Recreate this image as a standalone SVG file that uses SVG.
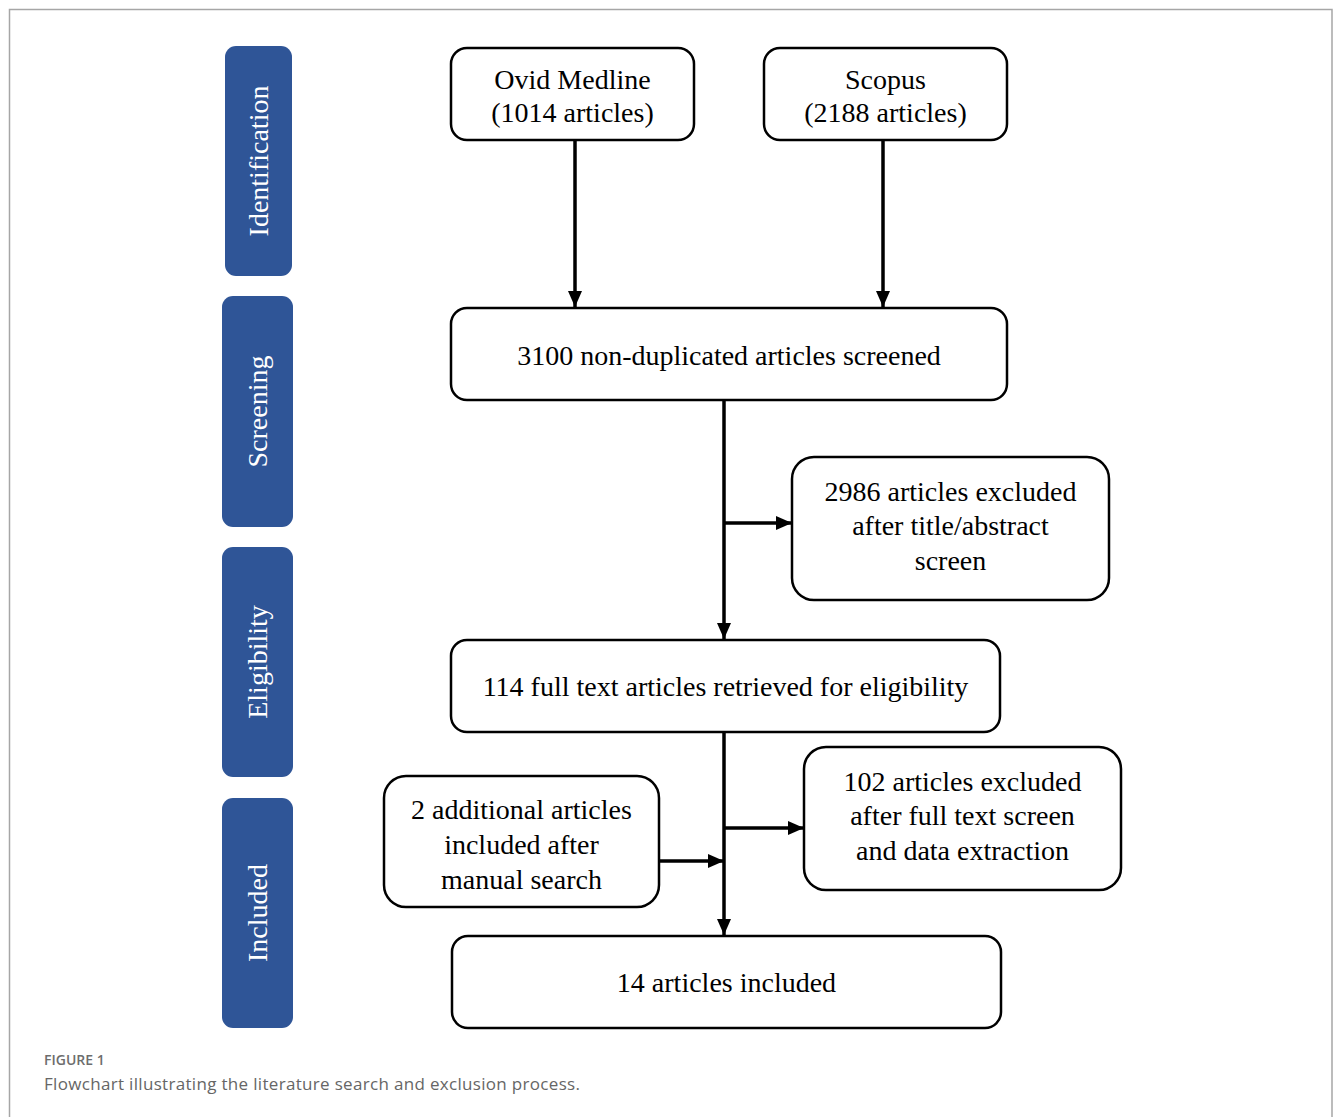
<svg xmlns="http://www.w3.org/2000/svg" width="1333" height="1117" viewBox="0 0 1333 1117">
<style>
.frame{fill:none;stroke:#a6a6a6;stroke-width:1.5}
.stage rect{fill:#2F5597}
.stage text{fill:#ffffff;font-family:"Liberation Serif","Times New Roman",serif;font-size:28px;text-anchor:middle}
.box rect{fill:#ffffff;stroke:#000000;stroke-width:2.5}
.box text{fill:#000000;font-family:"Liberation Serif","Times New Roman",serif;font-size:28px;text-anchor:middle}
.conn{fill:none;stroke:#000000;stroke-width:3.5}
.cap1{fill:#6d6d6d;font-family:"Open Sans","Liberation Sans",sans-serif;font-size:14px;font-weight:600}
.cap2{fill:#666666;font-family:"Open Sans","Liberation Sans",sans-serif;font-size:17px}
</style>
<defs>
<marker id="ah" viewBox="0 0 16 14" refX="16" refY="7" markerWidth="16" markerHeight="14" markerUnits="userSpaceOnUse" orient="auto">
<path d="M0,0 L16,7 L0,14 Z" fill="#000000"/>
</marker>
</defs>
<rect width="1333" height="1117" fill="#ffffff"/>
<path class="frame" d="M9.5,1117 V9.5 H1332 V1117"/>

<g id="stage-identification" class="stage">
<rect x="225" y="46" width="67" height="230" rx="11"/>
<text transform="translate(258.5,161) rotate(-90)" y="9.5">Identification</text>
</g>
<g id="stage-screening" class="stage">
<rect x="222" y="296" width="71" height="231" rx="11"/>
<text transform="translate(257.5,411.5) rotate(-90)" y="9.5">Screening</text>
</g>
<g id="stage-eligibility" class="stage">
<rect x="222" y="547" width="71" height="230" rx="11"/>
<text transform="translate(257.5,662) rotate(-90)" y="9.5">Eligibility</text>
</g>
<g id="stage-included" class="stage">
<rect x="222" y="798" width="71" height="230" rx="11"/>
<text transform="translate(257.5,913) rotate(-90)" y="9.5">Included</text>
</g>

<g id="connectors">
<line class="conn" x1="575" y1="140" x2="575" y2="307" marker-end="url(#ah)"/>
<line class="conn" x1="883" y1="140" x2="883" y2="307" marker-end="url(#ah)"/>
<line class="conn" x1="724" y1="400" x2="724" y2="639" marker-end="url(#ah)"/>
<line class="conn" x1="724" y1="523" x2="792" y2="523" marker-end="url(#ah)"/>
<line class="conn" x1="724" y1="732" x2="724" y2="935" marker-end="url(#ah)"/>
<line class="conn" x1="724" y1="828" x2="804" y2="828" marker-end="url(#ah)"/>
<line class="conn" x1="659" y1="861" x2="724" y2="861" marker-end="url(#ah)"/>
</g>

<g id="node-ovid" class="box">
<rect x="451" y="48" width="243" height="92" rx="16"/>
<text x="572.5" y="89">Ovid Medline</text>
<text x="572.5" y="122">(1014 articles)</text>
</g>
<g id="node-scopus" class="box">
<rect x="764" y="48" width="243" height="92" rx="16"/>
<text x="885.5" y="89">Scopus</text>
<text x="885.5" y="122">(2188 articles)</text>
</g>
<g id="node-screened" class="box">
<rect x="451" y="308" width="556" height="92" rx="16"/>
<text x="729" y="365">3100 non-duplicated articles screened</text>
</g>
<g id="node-excluded1" class="box">
<rect x="792" y="457" width="317" height="143" rx="22"/>
<text x="950.5" y="501">2986 articles excluded</text>
<text x="950.5" y="535">after title/abstract</text>
<text x="950.5" y="570">screen</text>
</g>
<g id="node-fulltext" class="box">
<rect x="451" y="640" width="549" height="92" rx="16"/>
<text x="725.5" y="696">114 full text articles retrieved for eligibility</text>
</g>
<g id="node-excluded2" class="box">
<rect x="804" y="747" width="317" height="143" rx="22"/>
<text x="962.5" y="791">102 articles excluded</text>
<text x="962.5" y="825">after full text screen</text>
<text x="962.5" y="860">and data extraction</text>
</g>
<g id="node-additional" class="box">
<rect x="384" y="776" width="275" height="131" rx="22"/>
<text x="521.5" y="819">2 additional articles</text>
<text x="521.5" y="854">included after</text>
<text x="521.5" y="889">manual search</text>
</g>
<g id="node-included" class="box">
<rect x="452" y="936" width="549" height="92" rx="16"/>
<text x="726.5" y="992">14 articles included</text>
</g>

<text class="cap1" x="44" y="1065">FIGURE 1</text>
<text class="cap2" x="44" y="1090" textLength="536" lengthAdjust="spacing">Flowchart illustrating the literature search and exclusion process.</text>
</svg>
